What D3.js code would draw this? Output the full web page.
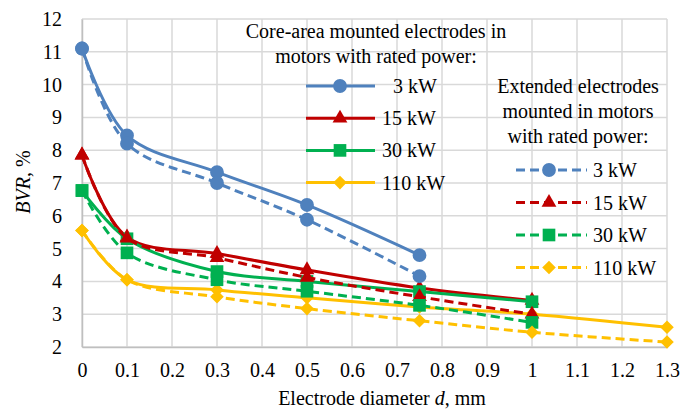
<!DOCTYPE html>
<html>
<head>
<meta charset="utf-8">
<script src="https://cdn.jsdelivr.net/npm/d3@7"></script>
<style>
  body { margin: 0; background: #fff; }
  svg text { font-family: "Liberation Serif", "Tinos", "Times New Roman", "DejaVu Serif", serif; fill: #000; }
</style>
</head>
<body>
<div class="chart"></div>
<script>
// electrode diameter, mm
var diameters = [0, 0.1, 0.3, 0.5, 0.75, 1, 1.3];
var xTicks = [0, 0.1, 0.2, 0.3, 0.4, 0.5, 0.6, 0.7, 0.8, 0.9, 1, 1.1, 1.2, 1.3];
var yTicks = [2, 3, 4, 5, 6, 7, 8, 9, 10, 11, 12];

// core-area mounted electrodes (solid)
var core3kW = [11.1, 8.45, 7.33, 6.33, 4.8];
var core15kW = [7.85, 5.35, 4.85, 4.35, 3.8, 3.42];
var core30kW = [6.77, 5.3, 4.3, 4.0, 3.69, 3.38];
var core110kW = [5.55, 4.05, 3.74, 3.5, 3.22, 3.0, 2.6];

// extended electrodes (dashed)
var ext3kW = [11.1, 8.2, 7.0, 5.88, 4.16];
var ext15kW = [7.85, 5.32, 4.72, 4.12, 3.53, 3.0];
var ext30kW = [6.77, 4.87, 4.05, 3.7, 3.27, 2.75];
var ext110kW = [5.55, 4.05, 3.53, 3.17, 2.8, 2.45, 2.15];

var powerLabels = ["3 kW", "15 kW", "30 kW", "110 kW"];
var colors = ["#4f81bd", "#c00000", "#00b050", "#ffc000"];
var shapes = ["circle", "triangle", "square", "diamond"];

var coreSeries = [core3kW, core15kW, core30kW, core110kW];
var extSeries = [ext3kW, ext15kW, ext30kW, ext110kW];

var svgWidth = 691;
var svgHeight = 411;
var fontFam = "'Liberation Serif', 'Tinos', 'Times New Roman', 'DejaVu Serif', serif";
var fs = "20px";

var svg = d3.select(".chart")
  .append("svg")
  .attr("width", svgWidth)
  .attr("height", svgHeight);

var x = d3.scaleLinear().domain([0, 1.3]).range([82, 667]);
var y = d3.scaleLinear().domain([2, 12]).range([347, 19]);

// gridlines
svg.append("g").selectAll("line").data(xTicks).join("line")
  .attr("x1", d => x(d)).attr("x2", d => x(d))
  .attr("y1", y(12)).attr("y2", y(2))
  .attr("stroke", "#d9d9d9").attr("stroke-width", 1.5);
svg.append("g").selectAll("line").data(yTicks).join("line")
  .attr("x1", x(0)).attr("x2", x(1.3))
  .attr("y1", d => y(d)).attr("y2", d => y(d))
  .attr("stroke", "#d9d9d9").attr("stroke-width", 1.5);

// axes
var xAxis = svg.append("g")
  .attr("transform", "translate(0," + y(2) + ")")
  .call(d3.axisBottom(x).tickValues(xTicks).tickSize(0).tickPadding(16)
    .tickFormat(d => String(+d.toFixed(1))));
xAxis.attr("font-family", fontFam);
xAxis.select(".domain").attr("stroke", "#bfbfbf").attr("stroke-width", 1.5);
xAxis.selectAll("text").attr("font-size", fs).attr("fill", "#000");

var yAxis = svg.append("g")
  .attr("transform", "translate(" + x(0) + ",0)")
  .call(d3.axisLeft(y).tickValues(yTicks).tickSize(0).tickPadding(20));
yAxis.attr("font-family", fontFam);
yAxis.select(".domain").attr("stroke", "#bfbfbf").attr("stroke-width", 1.5);
yAxis.selectAll("text").attr("font-size", fs).attr("fill", "#000");

// axis titles
var yTitle = svg.append("text")
  .attr("transform", "translate(30,182) rotate(-90)")
  .attr("text-anchor", "middle")
  .attr("font-size", fs);
yTitle.append("tspan").attr("font-style", "italic").text("BVR");
yTitle.append("tspan").text(", %");

var xTitle = svg.append("text")
  .attr("x", 382).attr("y", 405)
  .attr("text-anchor", "middle")
  .attr("font-size", fs);
xTitle.append("tspan").text("Electrode diameter ");
xTitle.append("tspan").attr("font-style", "italic").text("d");
xTitle.append("tspan").text(", mm");

function symbolPath(shape) {
  if (shape == "circle") return d3.symbol(d3.symbolCircle, 150)();
  if (shape == "triangle") return d3.symbol(d3.symbolTriangle, 95)();
  if (shape == "square") return d3.symbol(d3.symbolSquare, 160)();
  return d3.symbol(d3.symbolSquare, 92)();
}
function symbolRotate(shape) {
  return shape == "diamond" ? " rotate(45)" : "";
}

var lineFunc = d3.line()
  .x(d => x(d.x))
  .y(d => y(d.y))
  .curve(d3.curveCatmullRom.alpha(0.5));

function drawSeries(values, i, dashed) {
  var pts = values.map((v, j) => ({ x: diameters[j], y: v }));
  var g = svg.append("g");
  g.append("path")
    .attr("d", lineFunc(pts))
    .attr("fill", "none")
    .attr("stroke", colors[i])
    .attr("stroke-width", 3)
    .attr("stroke-dasharray", dashed ? "9,5" : null);
  g.selectAll("path.m").data(pts).join("path")
    .attr("class", "m")
    .attr("d", symbolPath(shapes[i]))
    .attr("transform", d => "translate(" + x(d.x) + "," + y(d.y) + ")" + symbolRotate(shapes[i]))
    .attr("fill", colors[i]);
}

coreSeries.forEach((s, i) => drawSeries(s, i, false));
extSeries.forEach((s, i) => drawSeries(s, i, true));

// legends
function legendEntry(lx1, lx2, mx, ly, tx, label, i, dashed) {
  svg.append("line")
    .attr("x1", lx1).attr("x2", lx2).attr("y1", ly).attr("y2", ly)
    .attr("stroke", colors[i]).attr("stroke-width", 3)
    .attr("stroke-dasharray", dashed ? "9,5" : null);
  svg.append("path")
    .attr("d", symbolPath(shapes[i]))
    .attr("transform", "translate(" + mx + "," + ly + ")" + symbolRotate(shapes[i]))
    .attr("fill", colors[i]);
  svg.append("text")
    .attr("x", tx).attr("y", ly + 7)
    .attr("font-size", fs)
    .text(label);
}

var coreTitle = ["Core-area mounted electrodes in", "motors with rated power:"];
coreTitle.forEach((t, k) => {
  svg.append("text").attr("x", 376).attr("y", 38 + k * 24.5)
    .attr("text-anchor", "middle").attr("font-size", fs).text(t);
});
powerLabels.forEach((p, i) => {
  legendEntry(306, 375, 340, 86 + i * 32.2, i == 0 ? 393 : 382, p, i, false);
});

var extTitle = ["Extended electrodes", "mounted in motors", "with rated power:"];
extTitle.forEach((t, k) => {
  svg.append("text").attr("x", 578).attr("y", 93 + k * 25)
    .attr("text-anchor", "middle").attr("font-size", fs).text(t);
});
powerLabels.forEach((p, i) => {
  legendEntry(516, 587, 549, 170 + i * 32.5, 593, p, i, true);
});
</script>
</body>
</html>
